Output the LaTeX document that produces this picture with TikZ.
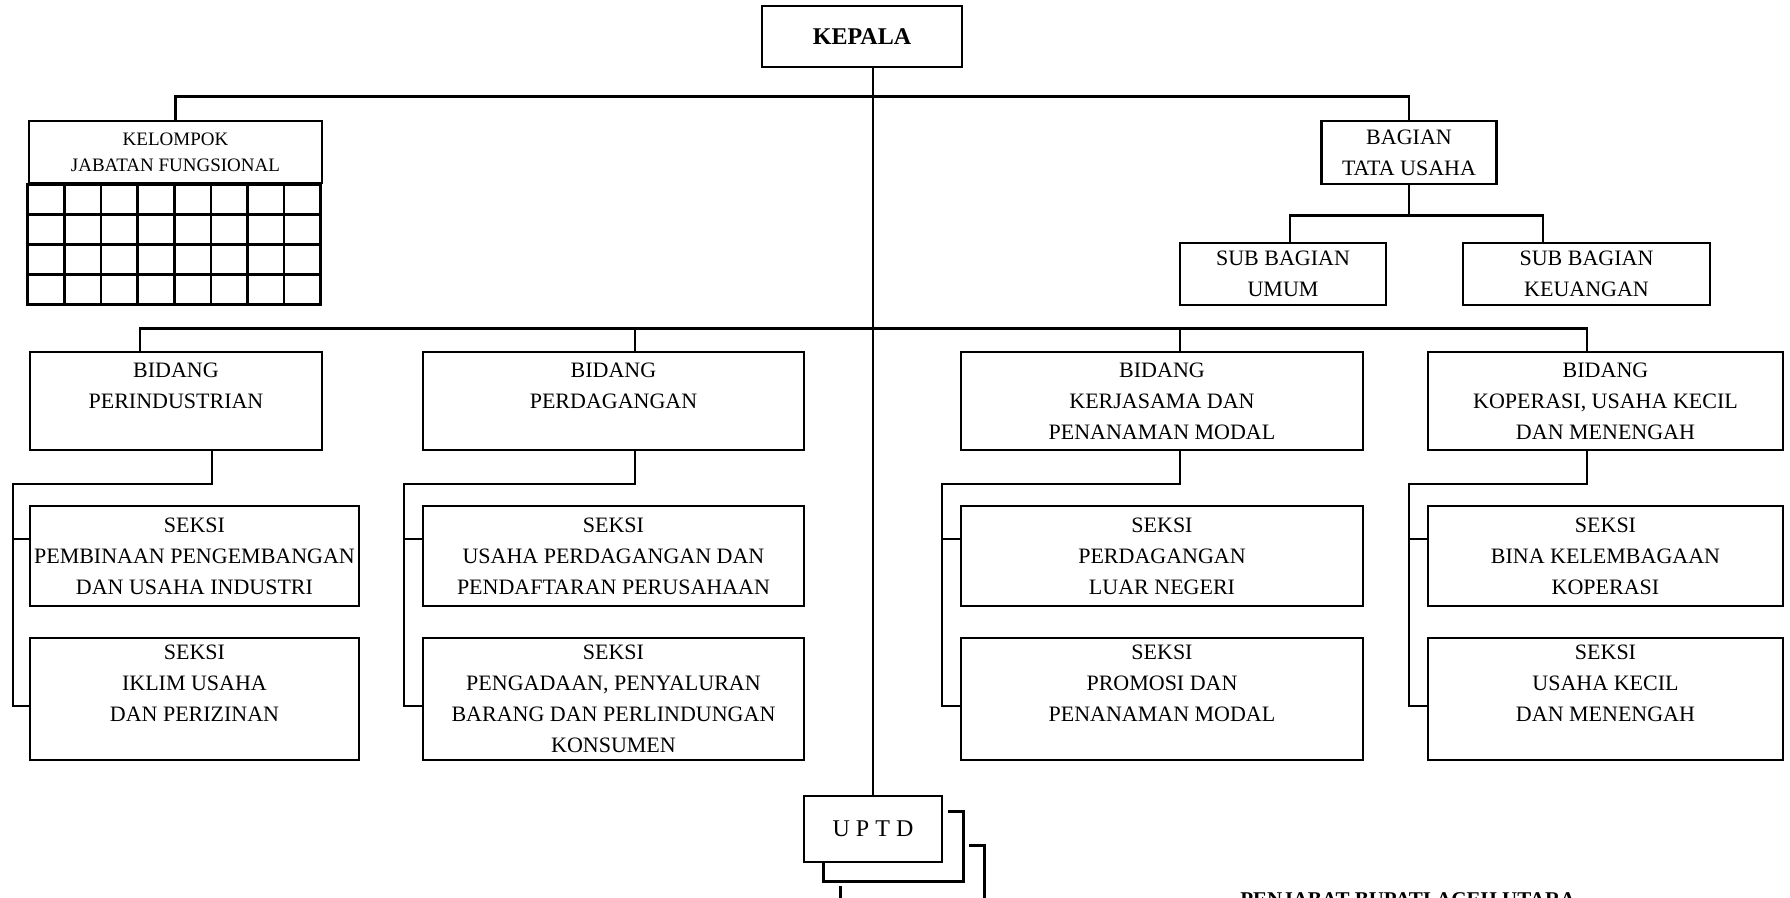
\documentclass[tikz,border=0pt]{standalone}
\usepackage{fontspec}
\setmainfont{Liberation Serif}
\begin{document}
\begin{tikzpicture}[x=0.5pt,y=-0.5pt,line width=1.3pt,line join=miter,
	kotak/.style={draw,align=center,inner sep=0pt,font=\fontsize{11}{15.5}\selectfont},
	ukuran/.style 2 args={minimum width=#1*0.5pt,minimum height=#2*0.5pt}]
	\useasboundingbox (0,0) rectangle (1790,898);
	\clip (0,0) rectangle (1790,898);
	\def\lebar{36.625} % lebar petak
	\def\tinggi{30} % tinggi petak
	\path 
	(862,36.5) node[kotak,ukuran={200}{61},font=\fontsize{12}{14}\selectfont\bfseries] (kepala) {KEPALA}
	(175.5,152) node[kotak,ukuran={293}{62},font=\fontsize{9.5}{13}\selectfont] (kjf) {KELOMPOK\\JABATAN FUNGSIONAL}
	(1409,152.5) node[kotak,ukuran={175}{63}] (btu) {BAGIAN\\TATA USAHA}
	(1283,274) node[kotak,ukuran={206}{62}] (umum) {SUB BAGIAN\\UMUM}
	(1586.5,274) node[kotak,ukuran={247}{62}] (keu) {SUB BAGIAN\\KEUANGAN};
	\path 
	(176,401) node[kotak,ukuran={292}{98}] (bid1) {BIDANG\\PERINDUSTRIAN\\~}
	(613.5,401) node[kotak,ukuran={381}{98}] (bid2) {BIDANG\\PERDAGANGAN\\~}
	(1162,401) node[kotak,ukuran={402}{98}] (bid3) {BIDANG\\KERJASAMA DAN\\PENANAMAN MODAL}
	(1605.5,401) node[kotak,ukuran={355}{98}] (bid4) {BIDANG\\KOPERASI, USAHA KECIL\\DAN MENENGAH};
	\path 
	(194.5,556) node[kotak,ukuran={329}{100}] (s11) {SEKSI\\PEMBINAAN PENGEMBANGAN\\DAN USAHA INDUSTRI}
	(194.5,699) node[kotak,ukuran={329}{122}] (s12) {SEKSI\\IKLIM USAHA\\DAN PERIZINAN\\~}
	(613.5,556) node[kotak,ukuran={381}{100}] (s21) {SEKSI\\USAHA PERDAGANGAN DAN\\PENDAFTARAN PERUSAHAAN}
	(613.5,699) node[kotak,ukuran={381}{122}] (s22) {SEKSI\\PENGADAAN, PENYALURAN\\BARANG DAN PERLINDUNGAN\\KONSUMEN}
	(1162,556) node[kotak,ukuran={402}{100}] (s31) {SEKSI\\PERDAGANGAN\\LUAR NEGERI}
	(1162,699) node[kotak,ukuran={402}{122}] (s32) {SEKSI\\PROMOSI DAN\\PENANAMAN MODAL\\~}
	(1605.5,556) node[kotak,ukuran={355}{100}] (s41) {SEKSI\\BINA KELEMBAGAAN\\KOPERASI}
	(1605.5,699) node[kotak,ukuran={355}{122}] (s42) {SEKSI\\USAHA KECIL\\DAN MENENGAH\\~};
	\path 
	(873,829) node[kotak,ukuran={138}{66},font=\fontsize{12}{14}\selectfont] (uptd) {U P T D}
	(1239,906) node[anchor=base west,inner sep=0pt,font=\fontsize{10.5}{12}\selectfont\bfseries] (penjabat) {PENJABAT BUPATI ACEH UTARA};
	% petak jabatan fungsional
	\foreach \i in {0,...,7}
	\foreach \j in {0,...,3}
	\draw (kjf.south west) ++(\i*\lebar,\j*\tinggi) rectangle +(\lebar,\tinggi);
	% garis komando
	\draw (kepala.south -| uptd.north) -- (uptd.north);
	\draw (kjf.north) -- ++(0,-23) -| (btu.north);
	\draw (btu.south) -- ++(0,30) coordinate (cabang);
	\draw (umum.north -| 1290,0) |- (cabang) -| (keu.north -| 1543,0);
	\draw (bid1.north -| 140,0) -- ++(0,-22) -| (bid4.north -| 1587,0);
	\draw (bid2.north -| 635,0) -- ++(0,-22);
	\draw (bid3.north -| 1180,0) -- ++(0,-22);
	% seksi
	\draw (bid1.south -| 212,0) |- (13,484) |- (s12.west |- 0,706);
	\draw (13,539) -- (s11.west |- 0,539);
	\draw (bid2.south -| 635,0) |- (404,484) |- (s22.west |- 0,706);
	\draw (404,539) -- (s21.west |- 0,539);
	\draw (bid3.south -| 1180,0) |- (942,484) |- (s32.west |- 0,706);
	\draw (942,539) -- (s31.west |- 0,539);
	\draw (bid4.south -| 1587,0) |- (1409,484) |- (s42.west |- 0,706);
	\draw (1409,539) -- (s41.west |- 0,539);
	% bayangan uptd
	\draw (uptd.north east) ++(5,17) -- ++(15,0) -- ++(0,70) -- ++(-140,0) -- ++(0,-19);
	\draw (uptd.north east) ++(26,51) -- ++(15,0) -- ++(0,70);
	\draw (uptd.south west) ++(38,23) -- ++(0,30);
\end{tikzpicture}
\end{document}
